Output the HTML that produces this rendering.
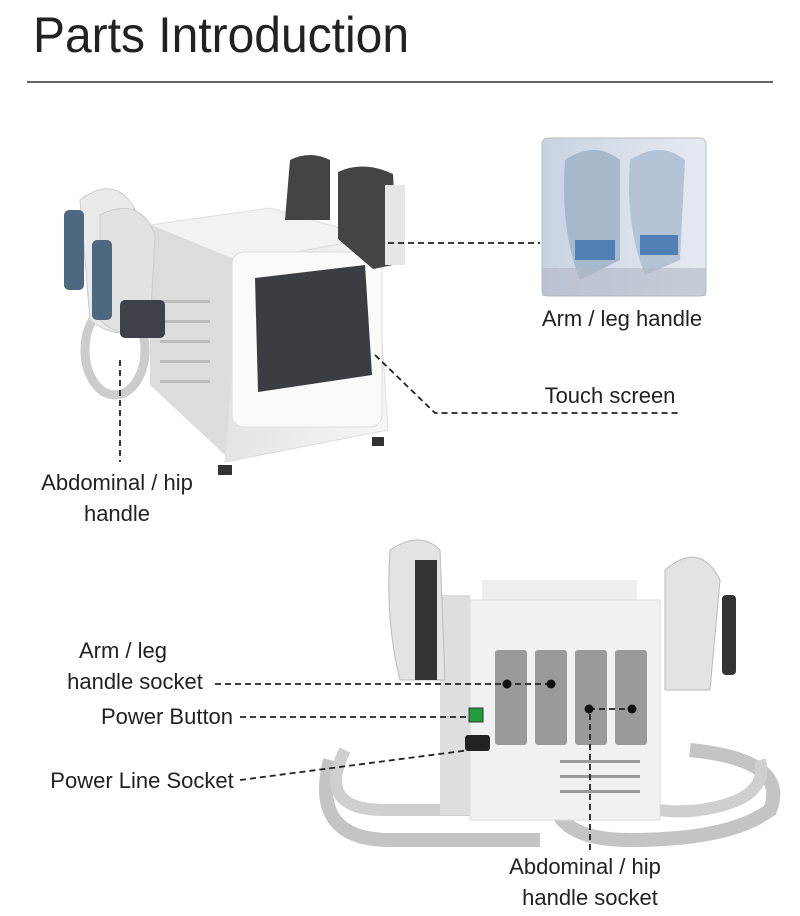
<!DOCTYPE html>
<html><head><meta charset="utf-8"><style>
html,body{margin:0;padding:0;background:#fff}
svg{display:block}
text{font-family:"Liberation Sans",sans-serif;fill:#222}
</style></head><body>
<svg width="800" height="916" viewBox="0 0 800 916" xmlns="http://www.w3.org/2000/svg">
<defs>
<linearGradient id="bd" x1="0" x2="1"><stop offset="0" stop-color="#e4e4e4"/><stop offset="1" stop-color="#f6f6f6"/></linearGradient>
<linearGradient id="ph" x1="0" x2="1"><stop offset="0" stop-color="#c7d3e3"/><stop offset="1" stop-color="#e6ebf2"/></linearGradient>
</defs>
<text x="33" y="52" font-size="50" fill="#222" textLength="376" lengthAdjust="spacingAndGlyphs">Parts Introduction</text>
<line x1="27" y1="82" x2="773" y2="82" stroke="#333" stroke-width="1.5"/>

<!-- top machine -->
<ellipse cx="115" cy="350" rx="30" ry="45" fill="none" stroke="#ccc" stroke-width="9"/>
<polygon points="150,225 270,208 375,238 240,262" fill="#f2f2f2" stroke="#ddd"/>
<polygon points="150,225 240,262 225,455 150,385" fill="#dcdcdc"/>
<polygon points="240,262 375,238 388,430 225,462" fill="url(#bd)" stroke="#ddd"/>
<g fill="#bbb"><rect x="160" y="300" width="50" height="3"/><rect x="160" y="320" width="50" height="3"/><rect x="160" y="340" width="50" height="3"/><rect x="160" y="360" width="50" height="3"/><rect x="160" y="380" width="50" height="3"/></g>
<rect x="232" y="252" width="150" height="175" rx="12" fill="#fafafa" stroke="#ddd"/>
<polygon points="255,278 365,265 372,375 258,392" fill="#3a3d42"/>
<rect x="218" y="465" width="14" height="10" fill="#333"/><rect x="372" y="437" width="12" height="9" fill="#333"/>
<path d="M80,200 q40,-30 60,20 l5,110 q-30,10 -55,-10z" fill="#eaeaea" stroke="#ccc"/>
<path d="M100,215 q40,-20 55,20 l-5,95 q-30,10 -50,-10z" fill="#e2e2e2" stroke="#ccc"/>
<rect x="64" y="210" width="20" height="80" rx="5" fill="#4d6880"/>
<rect x="92" y="240" width="20" height="80" rx="5" fill="#4d6880"/>
<rect x="120" y="300" width="45" height="38" rx="5" fill="#3e4248"/>
<path d="M290,160 q20,-10 40,0 l0,60 l-45,0z" fill="#444"/>
<path d="M338,172 q25,-12 55,2 l5,90 l-25,5 l-35,-30z" fill="#444"/>
<rect x="385" y="185" width="20" height="80" fill="#e6e6e6"/>

<!-- inset photo -->
<rect x="542" y="138" width="164" height="158" rx="6" fill="url(#ph)" stroke="#bbb"/>
<path d="M565,160 q30,-20 55,0 l0,100 l-40,20 q-20,-50 -15,-120z" fill="#a7b8cc"/>
<path d="M630,160 q30,-20 55,0 l-5,100 l-35,15 q-20,-50 -15,-115z" fill="#b3c3d5"/>
<rect x="575" y="240" width="40" height="20" fill="#4f7fb5"/><rect x="640" y="235" width="38" height="20" fill="#4f7fb5"/>
<rect x="542" y="268" width="164" height="28" fill="#b0b8c4" opacity=".6"/>

<!-- bottom machine -->
<path d="M330,760 q-20,80 60,80 l150,0 M560,760 q-30,80 70,80 q100,0 140,-30 q20,-50 -80,-60" fill="none" stroke="#c4c4c4" stroke-width="14"/>
<path d="M345,750 q-30,60 40,60 l120,0 M600,760 q20,60 100,50 q70,-10 60,-50" fill="none" stroke="#cfcfcf" stroke-width="12"/>
<rect x="482" y="580" width="155" height="20" fill="#eee"/>
<rect x="440" y="595" width="30" height="220" fill="#dedede"/>
<rect x="470" y="600" width="190" height="220" fill="#f1f1f1" stroke="#ddd"/>
<g fill="#999"><rect x="560" y="760" width="80" height="3"/><rect x="560" y="775" width="80" height="3"/><rect x="560" y="790" width="80" height="3"/></g>
<path d="M390,550 q30,-20 50,0 l5,130 l-45,0 q-15,-60 -10,-130z" fill="#e3e3e3" stroke="#bbb"/>
<rect x="415" y="560" width="22" height="120" fill="#333"/>
<path d="M665,570 q35,-30 55,10 l-10,110 l-45,0z" fill="#e3e3e3" stroke="#bbb"/>
<rect x="722" y="595" width="14" height="80" rx="4" fill="#333"/>
<g fill="#9a9a9a">
<rect x="495" y="650" width="32" height="95" rx="3"/><rect x="535" y="650" width="32" height="95" rx="3"/>
<rect x="575" y="650" width="32" height="95" rx="3"/><rect x="615" y="650" width="32" height="95" rx="3"/>
</g>
<rect x="469" y="708" width="14" height="14" fill="#1e9e3a" stroke="#333"/>
<rect x="465" y="735" width="25" height="16" rx="3" fill="#222"/>

<!-- connectors -->
<g stroke="#222" stroke-width="1.8" stroke-dasharray="6,4" fill="none">
<line x1="388" y1="243" x2="540" y2="243"/>
<polyline points="375,355 435,413 680,413"/>
<line x1="120" y1="360" x2="120" y2="462"/>
<line x1="215" y1="684" x2="551" y2="684"/>
<line x1="240" y1="717" x2="469" y2="717"/>
<line x1="240" y1="780" x2="470" y2="750"/>
<polyline points="590,850 590,709 632,709"/>
</g>
<g fill="#111"><circle cx="507" cy="684" r="4.5"/><circle cx="551" cy="684" r="4.5"/><circle cx="589" cy="709" r="4.5"/><circle cx="632" cy="709" r="4.5"/></g>

<g font-size="22">
<text x="622" y="326" text-anchor="middle">Arm / leg handle</text>
<text x="610" y="403" text-anchor="middle">Touch screen</text>
<text x="117" y="490" text-anchor="middle">Abdominal / hip</text>
<text x="117" y="521" text-anchor="middle">handle</text>
<text x="123" y="658" text-anchor="middle">Arm / leg</text>
<text x="135" y="689" text-anchor="middle">handle socket</text>
<text x="167" y="724" text-anchor="middle">Power Button</text>
<text x="142" y="788" text-anchor="middle">Power Line Socket</text>
<text x="585" y="874" text-anchor="middle">Abdominal / hip</text>
<text x="590" y="905" text-anchor="middle">handle socket</text>
</g>
</svg>
</body></html>
